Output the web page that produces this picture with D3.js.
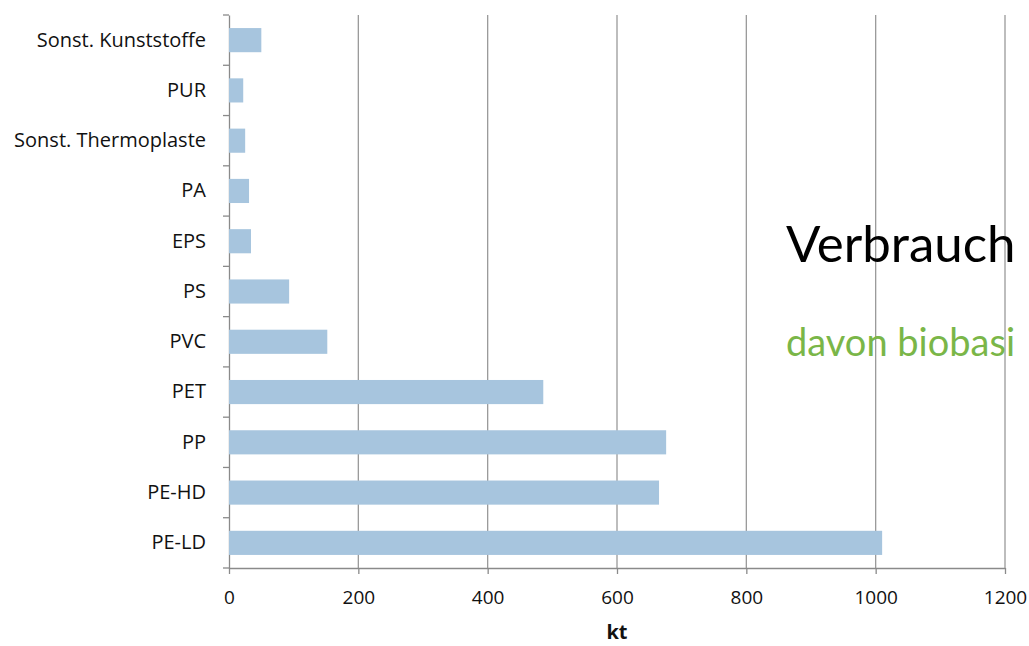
<!DOCTYPE html>
<html>
<head>
<meta charset="utf-8">
<script src="https://cdn.jsdelivr.net/npm/d3@7"></script>
<style>
  body { margin: 0; background: #fff; }
  svg { display: block; }
  text { font-family: "Open Sans", Lato, sans-serif; }
</style>
</head>
<body>
<svg id="chart" width="1029" height="646"></svg>
<script>
const categories = ["Sonst. Kunststoffe", "PUR", "Sonst. Thermoplaste", "PA", "EPS", "PS",
  "PVC", "PET", "PP", "PE-HD", "PE-LD"];
const consumption = [50, 22, 25, 31, 34, 93, 152, 486, 676, 665, 1010];
const xTicks = [0, 200, 400, 600, 800, 1000, 1200];

const svg = d3.select("#chart");
const margin = { top: 15, right: 24, bottom: 78, left: 229 };
const width = +svg.attr("width") - margin.left - margin.right;
const height = +svg.attr("height") - margin.top - margin.bottom;

const chart = svg.append("g")
  .attr("transform", `translate(${margin.left},${margin.top})`);

const x = d3.scaleLinear().domain([0, 1200]).range([0, width]);
const y = d3.scaleBand()
  .domain(categories)
  .range([0, height])
  .paddingInner(0.52)
  .paddingOuter(0.26);

// grid lines
chart.append("g")
  .selectAll("line")
  .data(xTicks.slice(1))
  .enter()
  .append("line")
  .attr("x1", d => x(d)).attr("x2", d => x(d))
  .attr("y1", 0).attr("y2", height)
  .attr("stroke", "#9a9a9a")
  .attr("stroke-width", 1.3);

// X axis
const xAxis = chart.append("g")
  .attr("transform", `translate(0,${height})`)
  .call(d3.axisBottom(x).tickValues(xTicks).tickFormat(d3.format("d"))
    .tickSize(6).tickPadding(17).tickSizeOuter(0));
xAxis.select(".domain").attr("stroke", "#8a8a8a").attr("stroke-width", 1.3);
xAxis.selectAll(".tick line").attr("stroke", "#8a8a8a").attr("stroke-width", 1.3);
xAxis.selectAll("text")
  .style("font-size", "19px")
  .attr("fill", "#111");

// Y axis
const yAxis = chart.append("g")
  .call(d3.axisLeft(y).tickSize(0).tickPadding(23));
yAxis.select(".domain").attr("stroke", "#8a8a8a").attr("stroke-width", 1.3);
yAxis.selectAll("text")
  .style("font-size", "20px")
  .attr("fill", "#111");

// category boundary ticks
const bounds = d3.range(categories.length + 1).map(i => i * y.step());
chart.append("g")
  .selectAll("line")
  .data(bounds)
  .enter()
  .append("line")
  .attr("x1", -6).attr("x2", 0)
  .attr("y1", d => d).attr("y2", d => d)
  .attr("stroke", "#8a8a8a")
  .attr("stroke-width", 1.3);

// Bars
chart.selectAll(".bar")
  .data(categories)
  .enter()
  .append("rect")
  .attr("class", "bar")
  .attr("x", 0)
  .attr("y", d => y(d))
  .attr("height", y.bandwidth())
  .attr("width", (d, i) => x(consumption[i]))
  .attr("fill", "#a7c5de");

// X axis label
chart.append("text")
  .attr("x", x(600))
  .attr("y", height + 71)
  .attr("text-anchor", "middle")
  .style("font-size", "20px")
  .style("font-weight", "bold")
  .attr("fill", "#111")
  .text("kt");

// overlay texts
svg.append("text")
  .attr("x", 786)
  .attr("y", 262)
  .style("font-family", "Lato, sans-serif")
  .style("font-size", "51px")
  .attr("fill", "#000")
  .text("Verbrauch");

svg.append("text")
  .attr("x", 786)
  .attr("y", 356)
  .style("font-family", "Lato, sans-serif")
  .style("font-size", "38px")
  .attr("fill", "#7ab648")
  .text("davon biobasi");
</script>
</body>
</html>
